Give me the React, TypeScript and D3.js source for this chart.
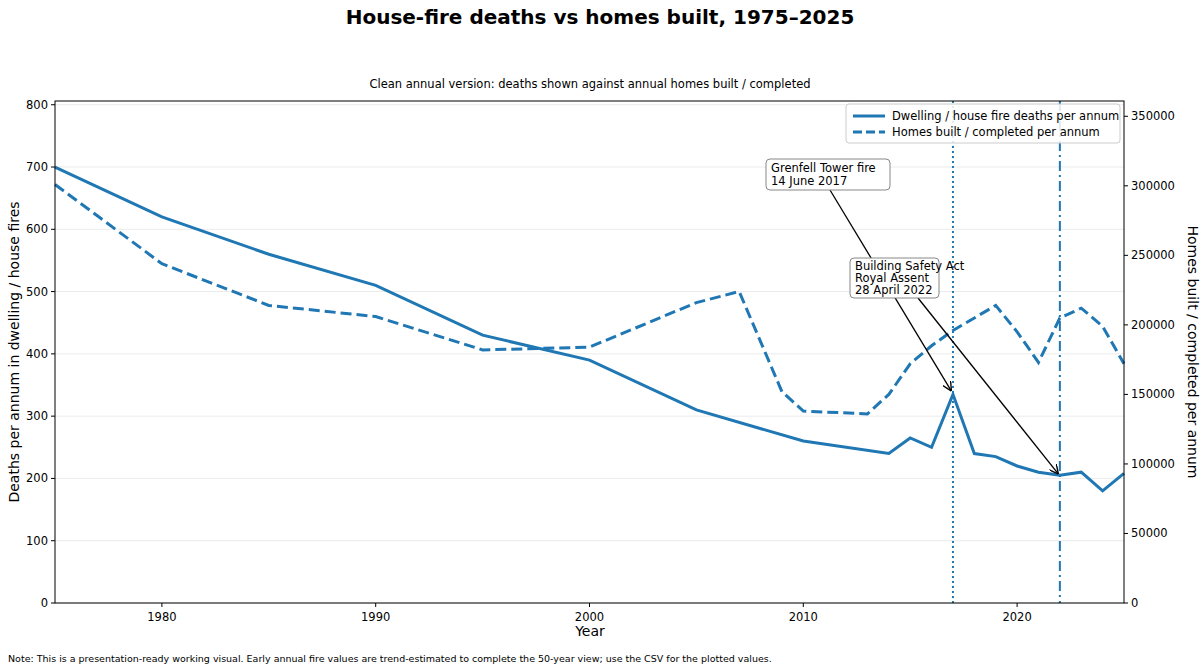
import React from "react";
import * as d3 from "d3";

const deathYears = [1975,1980,1985,1990,1995,2000,2005,2010,2014,2015,2016,2017,2018,2019,2020,2021,2022,2023,2024,2025];
const deaths = [700,620,560,510,430,390,310,260,240,265,250,335,240,235,220,210,205,210,180,208];
const homeYears = [1975,1980,1985,1990,1995,2000,2005,2007,2009,2010,2013,2014,2015,2016,2017,2018,2019,2020,2021,2022,2023,2024,2025];
const homes = [301000,244000,214000,206000,182000,184000,216000,224000,152000,138000,136000,150000,172000,185000,196000,205000,214000,195000,173000,205000,212000,199000,172000];
const leftTicks = [0,100,200,300,400,500,600,700,800];
const rightTicks = [0,50000,100000,150000,200000,250000,300000,350000];
const xTicks = [1980,1990,2000,2010,2020];

const C = "#1f77b4";
const F = "DejaVu Sans, sans-serif";

export default function App() {
  const L = 55, R = 1124, T = 101, B = 603;
  const x = d3.scaleLinear().domain([1975, 2025]).range([L, R]);
  const y = d3.scaleLinear().domain([0, 806]).range([B, T]);
  const y2 = d3.scaleLinear().domain([0, 361000]).range([B, T]);
  const dLine = d3.line<number>().x((_, i) => x(deathYears[i])).y(d => y(d))(deaths)!;
  const hLine = d3.line<number>().x((_, i) => x(homeYears[i])).y(d => y2(d))(homes)!;
  const gx = x(2017), gy = y(335), bx = x(2022), by = y(205);
  return (
    <svg width={1200} height={671} style={{ position: "absolute", left: 0, top: 0, fontFamily: F }}>
      <defs>
        <marker id="ah" viewBox="0 0 10 10" refX="9" refY="5" markerWidth="7" markerHeight="7" orient="auto">
          <path d="M0,0 L10,5 L0,10" fill="none" stroke="#000" strokeWidth={1.5} />
        </marker>
      </defs>
      <rect width={1200} height={671} fill="#fff" />
      <text x={600} y={24} textAnchor="middle" fontSize={20} fontWeight="bold">House-fire deaths vs homes built, 1975–2025</text>
      <text x={590} y={88} textAnchor="middle" fontSize={11.5}>Clean annual version: deaths shown against annual homes built / completed</text>
      {leftTicks.map(t => (
        <g key={t}>
          <line x1={L} x2={R} y1={y(t)} y2={y(t)} stroke="#e6e6e6" strokeWidth={0.8} />
          <line x1={L - 4} x2={L} y1={y(t)} y2={y(t)} stroke="#000" />
          <text x={L - 7} y={y(t) + 4} textAnchor="end" fontSize={11.5}>{t}</text>
        </g>
      ))}
      {rightTicks.map(t => (
        <g key={t}>
          <line x1={R} x2={R + 4} y1={y2(t)} y2={y2(t)} stroke="#000" />
          <text x={R + 7} y={y2(t) + 4} fontSize={11.5}>{t}</text>
        </g>
      ))}
      {xTicks.map(t => (
        <g key={t}>
          <line x1={x(t)} x2={x(t)} y1={B} y2={B + 4} stroke="#000" />
          <text x={x(t)} y={B + 18} textAnchor="middle" fontSize={11.5}>{t}</text>
        </g>
      ))}
      <line x1={gx} x2={gx} y1={T} y2={B} stroke={C} strokeWidth={2} strokeDasharray="2,3" />
      <line x1={bx} x2={bx} y1={T} y2={B} stroke={C} strokeWidth={2} strokeDasharray="10,4,2,4" />
      <path d={hLine} fill="none" stroke={C} strokeWidth={3} strokeDasharray="11,5" />
      <path d={dLine} fill="none" stroke={C} strokeWidth={3} />
      <rect x={L} y={T} width={R - L} height={B - T} fill="none" stroke="#000" strokeWidth={1} />
      <text x={590} y={636} textAnchor="middle" fontSize={14}>Year</text>
      <text transform={`translate(19,352) rotate(-90)`} textAnchor="middle" fontSize={14}>Deaths per annum in dwelling / house fires</text>
      <text transform={`translate(1188,352) rotate(90)`} textAnchor="middle" fontSize={14}>Homes built / completed per annum</text>
      <line x1={830} y1={190} x2={gx - 2} y2={gy - 4} stroke="#000" strokeWidth={1.3} markerEnd="url(#ah)" />
      <line x1={918} y1={298} x2={bx - 2} y2={by - 2} stroke="#000" strokeWidth={1.3} markerEnd="url(#ah)" />
      <rect x={766} y={159} width={124} height={31} rx={4} fill="#fff" stroke="#888" />
      <text x={771} y={172} fontSize={11.5}>Grenfell Tower fire</text>
      <text x={771} y={185} fontSize={11.5}>14 June 2017</text>
      <rect x={850} y={258} width={89} height={40} rx={4} fill="#fff" stroke="#888" />
      <text x={855} y={270} fontSize={11.5}>Building Safety Act</text>
      <text x={855} y={282} fontSize={11.5}>Royal Assent</text>
      <text x={855} y={294} fontSize={11.5}>28 April 2022</text>
      <rect x={846} y={104} width={274} height={39} rx={3} fill="#fff" fillOpacity={0.85} stroke="#ccc" />
      <line x1={853} x2={885} y1={116} y2={116} stroke={C} strokeWidth={3} />
      <text x={892} y={120} fontSize={11.5}>Dwelling / house fire deaths per annum</text>
      <line x1={853} x2={885} y1={132} y2={132} stroke={C} strokeWidth={3} strokeDasharray="9,4" />
      <text x={892} y={136} fontSize={11.5}>Homes built / completed per annum</text>
      <text x={8} y={662} fontSize={9.5}>Note: This is a presentation-ready working visual. Early annual fire values are trend-estimated to complete the 50-year view; use the CSV for the plotted values.</text>
    </svg>
  );
}
